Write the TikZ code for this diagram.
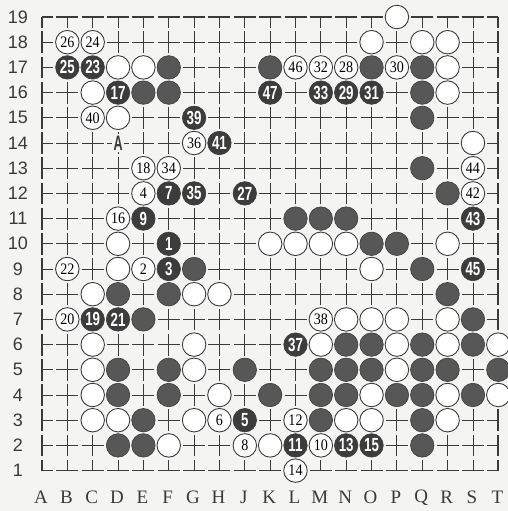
\documentclass[tikz,border=0pt]{standalone}
\usepackage{fontspec}
\usetikzlibrary{calc}
\setmainfont{Liberation Serif}
\newfontfamily\lsans{Liberation Sans}
\definecolor{paper}{HTML}{F4F4F2}
\definecolor{ink}{HTML}{3A3A3A}
\definecolor{stoneblack}{HTML}{575757}
\definecolor{stonedark}{HTML}{3C3C3C}
\newcommand\sq[2]{\scalebox{#1}[1]{#2}}
\begin{document}
\begin{tikzpicture}[x=1pt,y=-1pt,
  hline/.style={draw=ink,line width=0.9pt,dash pattern=on 22pt off 3.35pt,dash phase=11pt},
  vline/.style={draw=ink,line width=0.9pt,dash pattern=on 21.8pt off 3.4pt,dash phase=10.9pt},
  edge/.style={line width=1.7pt},
  wstone/.style={circle,draw=ink,line width=0.9pt,fill=white,minimum size=23.5pt,inner sep=0pt,font=\fontsize{16}{16}\selectfont},
  bstone/.style={circle,draw=stonedark,line width=0.6pt,fill=stoneblack,minimum size=23.5pt,inner sep=0pt},
  bnum/.style={bstone,fill=stonedark,text=white,font=\lsans\bfseries\fontsize{19}{19}\selectfont},
  rowlab/.style={font=\lsans\fontsize{18}{18}\selectfont,text=ink,inner sep=0pt},
  collab/.style={font=\fontsize{19}{19}\selectfont,text=ink,inner sep=0pt},
  marklab/.style={font=\lsans\bfseries\fontsize{21}{21}\selectfont,fill=paper,inner sep=1.5pt,text=ink}]
\fill[paper] (0,0) rectangle (508,511);
\useasboundingbox (0,0) rectangle (508,511);
\foreach \c in {1,...,19}
  \foreach \r in {1,...,19}
    \coordinate (p-\c-\r) at ({42+(\c-1)*25.35},{17+(19-\r)*25.2});
% grid
\foreach \r in {2,...,18} \draw[hline] (p-1-\r) -- (p-19-\r);
\foreach \c in {2,...,18} \draw[vline] (p-\c-1) -- (p-\c-19);
\draw[hline,edge] (p-1-1) -- (p-19-1);
\draw[hline,edge] (p-1-19) -- (p-19-19);
\draw[vline,edge] (p-1-1) -- (p-1-19);
\draw[vline,edge] (p-19-1) -- (p-19-19);
% labels
\foreach \r in {1,...,19} \node[rowlab] (row-\r) at ($(p-1-\r)+(-24,0)$) {\r};
\foreach \c/\l in {1/A,2/B,3/C,4/D,5/E,6/F,7/G,8/H,9/J,10/K,11/L,12/M,13/N,14/O,15/P,16/Q,17/R,18/S,19/T}
  \node[collab] (col-\c) at ($(p-\c-1)+(-1,27)$) {\l};
\node[marklab] (markA) at (p-4-14) {\sq{0.6}{A}};
% white stones
\foreach \c/\r in {4/17,5/17,3/16,4/15,4/10,15/19,14/18,16/18,17/18,17/17,17/16,18/14,
  10/10,11/10,12/10,13/10,17/10,4/9,3/8,7/8,8/8,3/6,7/6,3/5,7/5,3/4,8/4,3/3,4/3,7/3,6/2,
  14/9,13/7,14/7,15/7,17/7,12/6,15/6,17/6,19/6,15/5,14/4,17/4,19/4,13/3,14/3,17/3,10/2}
  \node[wstone] (s-\c-\r) at (p-\c-\r) {};
\foreach \c/\r/\n in {2/18/26,3/18/24,3/15/40,7/14/36,5/13/18,6/13/34,5/12/4,4/11/16,2/9/22,
  5/9/2,2/7/20,8/3/6,9/2/8,11/17/46,12/17/32,13/17/28,15/17/30,18/13/44,18/12/42,12/7/38,
  11/3/12,12/2/10,11/1/14}
  \node[wstone] (s-\c-\r) at (p-\c-\r) {\sq{0.88}{\n}};
% black stones
\foreach \c/\r in {6/17,5/16,6/16,10/17,14/17,16/17,16/16,16/15,16/13,17/12,11/11,12/11,13/11,
  14/10,15/10,7/9,4/8,6/8,5/7,4/5,6/5,9/5,4/4,6/4,5/3,4/2,5/2,16/9,17/8,18/7,13/6,14/6,16/6,
  18/6,12/5,13/5,14/5,16/5,17/5,19/5,10/4,12/4,13/4,15/4,16/4,18/4,12/3,16/3,16/2}
  \node[bstone] (s-\c-\r) at (p-\c-\r) {};
\foreach \c/\r/\n in {6/10/1,6/9/3,9/3/5,6/12/7,5/11/9,11/2/11,13/2/13,14/2/15,4/16/17,3/7/19,
  4/7/21,3/17/23,2/17/25,9/12/27,13/16/29,14/16/31,12/16/33,7/12/35,11/6/37,7/15/39,8/14/41,
  18/11/43,18/9/45,10/16/47}
  \node[bnum] (s-\c-\r) at (p-\c-\r) {\sq{0.7}{\n}};
\end{tikzpicture}
\end{document}
